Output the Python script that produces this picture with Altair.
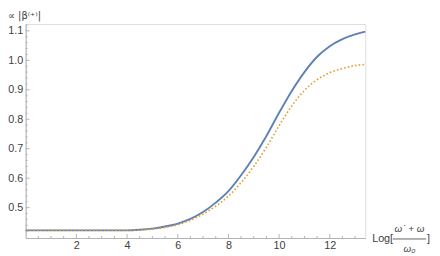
import altair as alt
import pandas as pd

# data
x_vals = [0, 1, 2, 3, 4, 4.5, 5, 5.5, 6, 6.5, 7, 7.5, 8, 8.5, 9, 9.5, 10,
          10.5, 11, 11.5, 12, 12.5, 13, 13.4]
blue_vals = [0.423, 0.423, 0.423, 0.423, 0.423, 0.425, 0.429, 0.436, 0.446,
             0.462, 0.485, 0.517, 0.556, 0.610, 0.672, 0.743, 0.822, 0.896,
             0.960, 1.012, 1.048, 1.072, 1.088, 1.097]
orange_vals = [0.423, 0.423, 0.423, 0.423, 0.423, 0.424, 0.427, 0.433, 0.442,
               0.457, 0.478, 0.505, 0.539, 0.585, 0.640, 0.705, 0.778, 0.845,
               0.898, 0.934, 0.958, 0.972, 0.982, 0.986]

x_major = [2, 4, 6, 8, 10, 12]
x_minor = [0.5, 1, 1.5, 2.5, 3, 3.5, 4.5, 5, 5.5, 6.5, 7, 7.5, 8.5, 9, 9.5,
           10.5, 11, 11.5, 12.5, 13]
y_major = [0.5, 0.6, 0.7, 0.8, 0.9, 1.0, 1.1]
y_minor = [0.42, 0.44, 0.46, 0.48, 0.52, 0.54, 0.56, 0.58, 0.62, 0.64, 0.66,
           0.68, 0.72, 0.74, 0.76, 0.78, 0.82, 0.84, 0.86, 0.88, 0.92, 0.94,
           0.96, 0.98, 1.02, 1.04, 1.06, 1.08, 1.12]

X_DOM = [0, 13.4]
Y_DOM = [0.397, 1.123]
W, H = 346, 218
AX = "#b3b3b3"
LBL = "#404040"
FONT = "Liberation Sans"

df = pd.DataFrame({"x": x_vals, "blue": blue_vals, "orange": orange_vals})

xs = alt.Scale(domain=X_DOM, nice=False, zero=False)
ys = alt.Scale(domain=Y_DOM, nice=False, zero=False)

xax = alt.Axis(values=x_major, ticks=False, grid=False, domainColor=AX,
               labelColor=LBL, labelFont=FONT, labelFontSize=11,
               labelPadding=2, labelOverlap=False, title=None)
yax = alt.Axis(values=y_major, ticks=False, grid=False, domainColor=AX,
               labelColor=LBL, labelFont=FONT, labelFontSize=11,
               labelPadding=3, labelOverlap=False, format=".1f", title=None)

base = alt.Chart(df)
blue = base.mark_line(color="#5E81B5", strokeWidth=1.9, interpolate="monotone").encode(
    x=alt.X("x:Q", scale=xs, axis=xax), y=alt.Y("blue:Q", scale=ys, axis=yax))
orange = base.mark_line(color="#E19C24", strokeWidth=1.6, strokeDash=[1.6, 2.2],
                        interpolate="monotone").encode(
    x=alt.X("x:Q", scale=xs, axis=xax), y=alt.Y("orange:Q", scale=ys, axis=yax))

def xticks(vals, size):
    return alt.Chart(pd.DataFrame({"t": vals})).mark_rule(color=AX, strokeWidth=1).encode(
        x=alt.X("t:Q", scale=xs, axis=xax), y=alt.value(H), y2=alt.value(H - size))

def yticks(vals, size):
    return alt.Chart(pd.DataFrame({"t": vals})).mark_rule(color=AX, strokeWidth=1).encode(
        y=alt.Y("t:Q", scale=ys, axis=yax), x=alt.value(0), x2=alt.value(size))

txt = dict(font=FONT, color=LBL, fontSize=10)
ylab = alt.Chart(pd.DataFrame({"s": ["∝ |β⁽⁺⁾|"]})).mark_text(
    align="left", baseline="middle", font="DejaVu Sans", color=LBL, fontSize=10).encode(
    text="s:N", x=alt.value(-18), y=alt.value(-8))
loglab = alt.Chart(pd.DataFrame({"s": ["Log["]})).mark_text(
    align="left", baseline="middle", font=FONT, color=LBL, fontSize=11).encode(
    text="s:N", x=alt.value(W + 7), y=alt.value(H + 1))
num = alt.Chart(pd.DataFrame({"s": ["ω\u02d9 + ω"]})).mark_text(
    align="center", baseline="middle", fontStyle="italic", **txt).encode(
    text="s:N", x=alt.value(W + 45), y=alt.value(H - 9))
den = alt.Chart(pd.DataFrame({"s": ["ω₀"]})).mark_text(
    align="center", baseline="middle", fontStyle="italic", **txt).encode(
    text="s:N", x=alt.value(W + 45), y=alt.value(H + 11))
bar = alt.Chart(pd.DataFrame({"a": [0]})).mark_rule(color=LBL, strokeWidth=0.8).encode(
    x=alt.value(W + 28), x2=alt.value(W + 62), y=alt.value(H + 1))
close = alt.Chart(pd.DataFrame({"s": ["]"]})).mark_text(
    align="left", baseline="middle", font=FONT, color=LBL, fontSize=11).encode(
    text="s:N", x=alt.value(W + 63), y=alt.value(H + 1))

chart = alt.layer(
    xticks(x_minor, 2), xticks(x_major, 4), yticks(y_minor, 2), yticks(y_major, 4),
    blue, orange, ylab, loglab, num, den, bar, close
).properties(
    width=W, height=H,
    autosize=alt.AutoSizeParams(type="none"),
    padding={"left": 18, "top": 14, "right": 68, "bottom": 16},
).configure_view(stroke=None).configure_axis(labelOverlap=False).configure(background="white")

chart.save("out.html", embed_options={"renderer": "svg", "actions": False})
